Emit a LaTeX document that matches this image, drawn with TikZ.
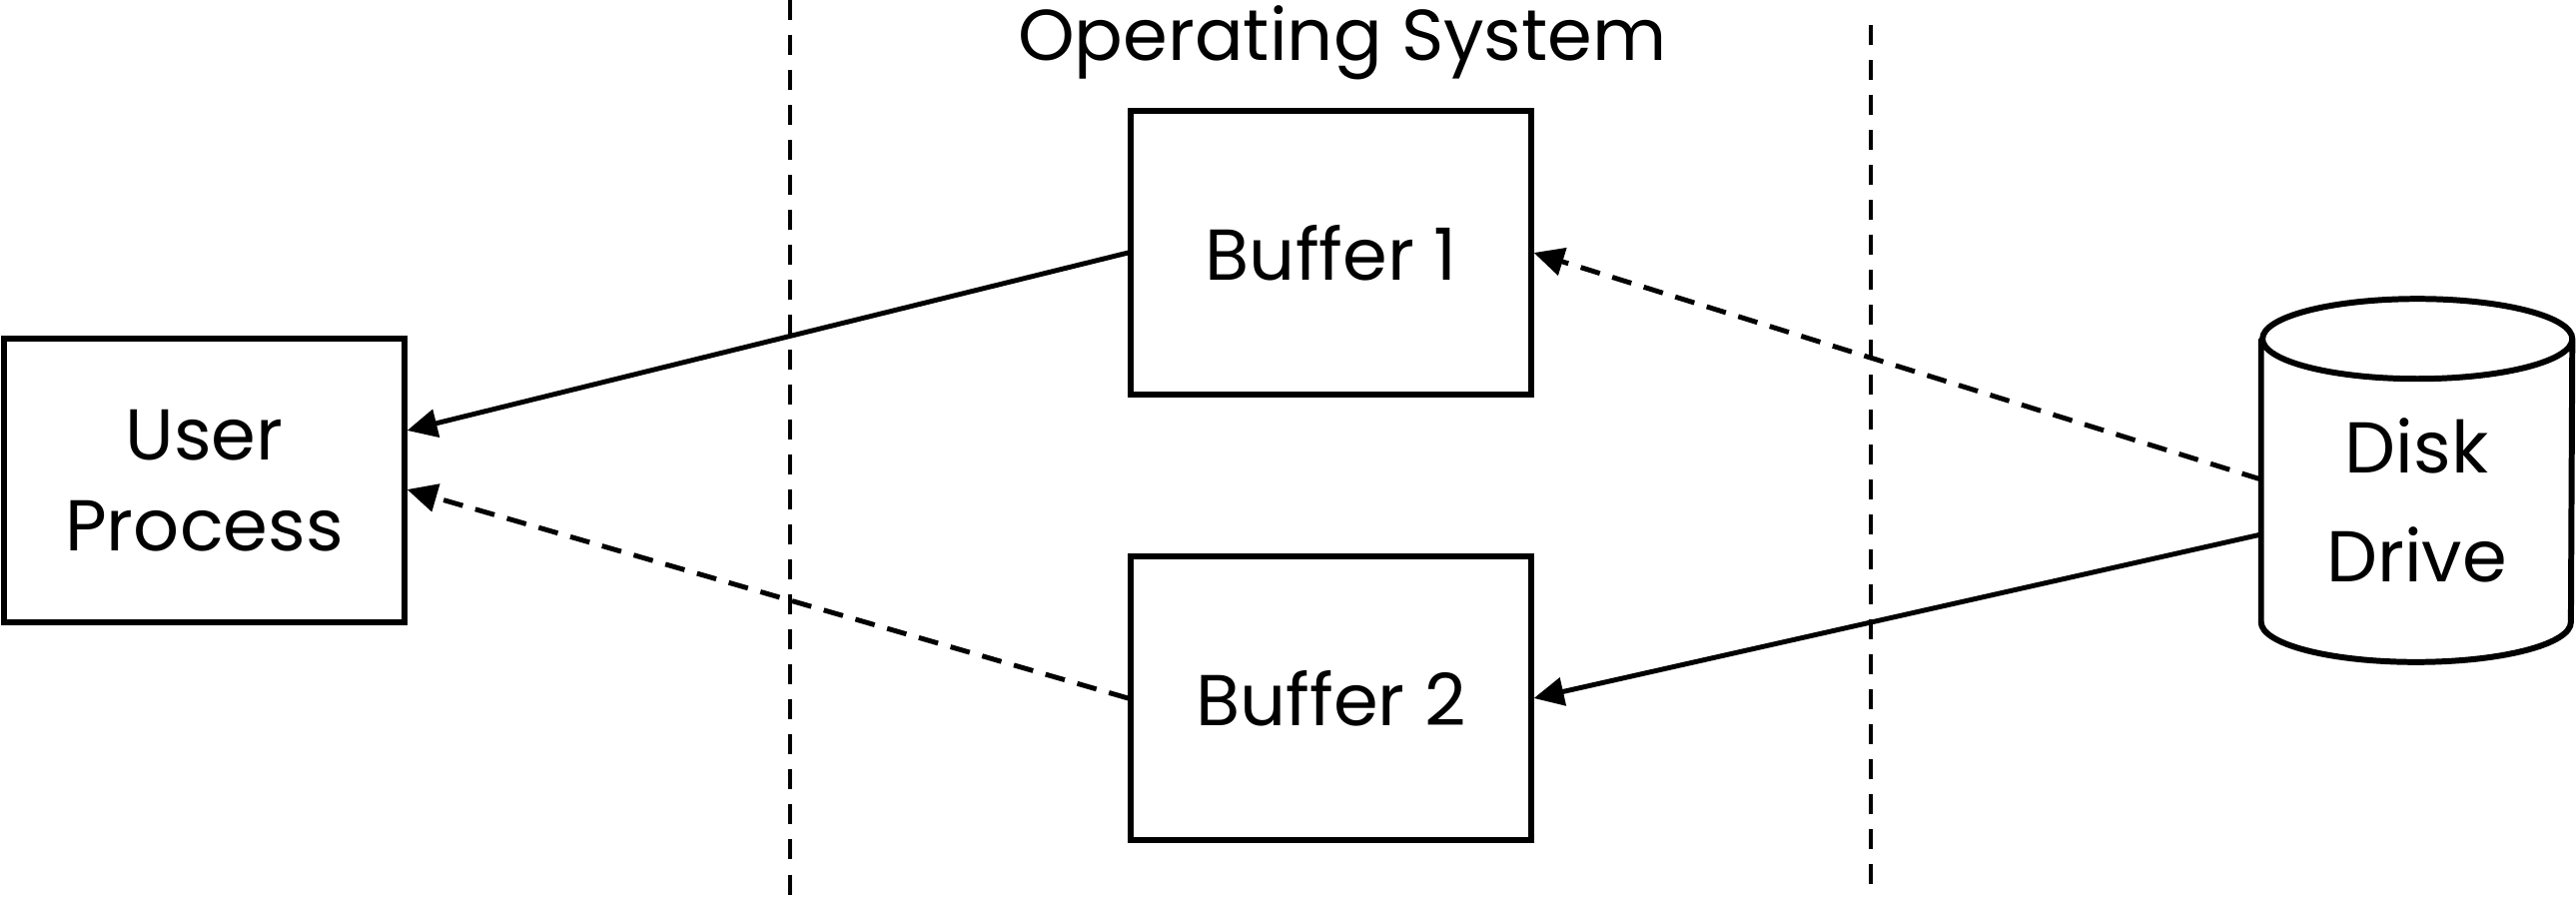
\documentclass[tikz,border=0pt]{standalone}
\usepackage{fontspec}
\setmainfont{Poppins}
\usetikzlibrary{arrows.meta}
\tikzset{>/.tip={Triangle[length=0.3cm,width=0.28cm]},
  blk/.style={draw, line width=1.7pt, minimum width=4.0cm, minimum height=2.84cm, align=center, font=\fontsize{20.5}{26}\selectfont},
  lnk/.style={->, line width=1.4pt},
  dsh/.style={lnk, dash pattern=on 0.2cm off 0.13cm},
  sep/.style={line width=1.4pt, dash pattern=on 0.2cm off 0.15cm}}

\begin{document}
\begin{tikzpicture}[x=0.01cm, y=-0.01cm]
\useasboundingbox (0,0) rectangle (2579,899);
\node[anchor=base, font=\fontsize{20.5}{26}\selectfont] (os) at (1344,60) {Operating System};
\node[blk] (user) at (204.5,481) {User\\Process};
\node[blk] (buf1) at (1332.5,253) {Buffer 1};
\node[blk] (buf2) at (1332.5,699) {Buffer 2};
\node[minimum width=3.1cm, minimum height=3.22cm, inner sep=0pt, align=center, font=\fontsize{20.5}{31}\selectfont] (disk) at (2419.5,501) {Disk\\Drive};

% the disk
\draw[line width=1.7pt] (disk.north west) -- ([yshift=0.4cm]disk.south west)
  arc[start angle=180, end angle=360, x radius=1.55cm, y radius=0.4cm]
  -- (disk.north east)
  arc[start angle=0, end angle=180, x radius=1.55cm, y radius=0.4cm]
  arc[start angle=180, end angle=360, x radius=1.55cm, y radius=0.4cm];

% kernel boundary
\draw[sep] (791,0) -- (791,899);
\draw[sep] (1873,25) -- (1873,888);

\draw[lnk] (buf1.west) -- ([yshift=0.5cm]user.east);
\draw[dsh] (buf2.west) -- ([yshift=-0.09cm]user.east);
\draw[dsh] ([yshift=0.21cm]disk.west) -- (buf1.east);
\draw[lnk] ([yshift=-0.34cm]disk.west) -- (buf2.east);
\end{tikzpicture}
\end{document}
